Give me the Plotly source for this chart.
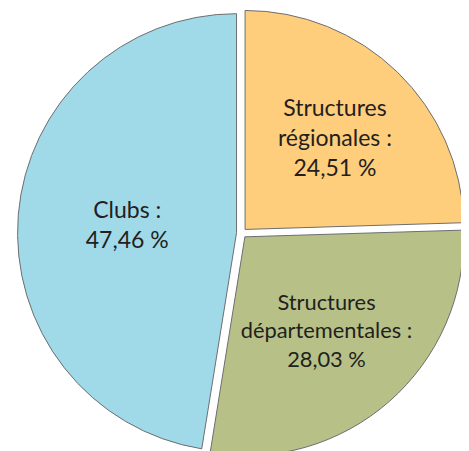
import plotly.graph_objects as go

labels = ["Structures<br>régionales", "Structures<br>départementales", "Clubs"]
values = [24.51, 28.03, 47.46]
colors = ["#FECE7C", "#B7C187", "#A0DAE8"]
pulls = [0.023, 0.023, 0.023]

fig = go.Figure(go.Pie(
    labels=labels,
    values=values,
    sort=False,
    direction="clockwise",
    rotation=0,
    pull=pulls,
    marker=dict(colors=colors, line=dict(color="#6d6e71", width=1)),
    texttemplate="%{label} :<br>%{value:.2f} %",
    textposition="inside",
    insidetextorientation="horizontal",
    textfont=dict(family="Lato", size=23, color="#231f20"),
    hoverinfo="skip",
    domain=dict(x=[0.0, 0.996], y=[0.0043, 0.9977]),
))

fig.update_layout(
    width=469, height=451,
    margin=dict(l=0, r=0, t=0, b=0),
    showlegend=False,
    separators=", ",
    paper_bgcolor="white",
    plot_bgcolor="white",
)

fig.write_html("out.html")
